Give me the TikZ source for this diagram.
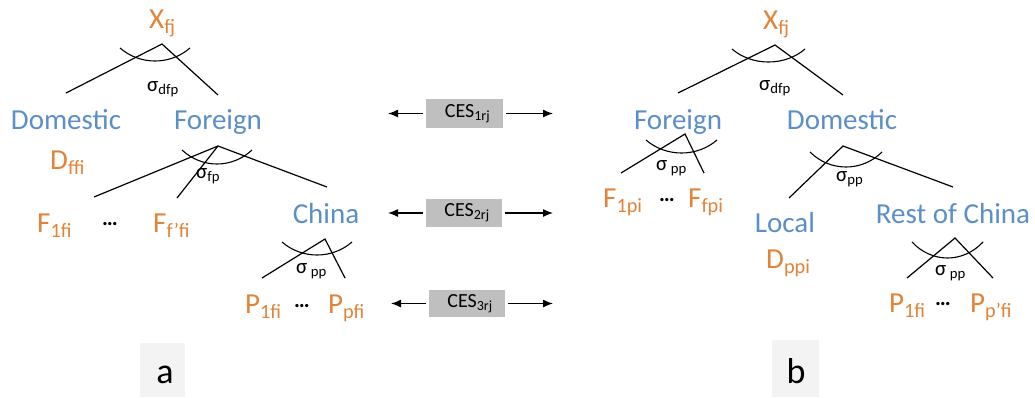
\documentclass[tikz,border=0pt]{standalone}
\usepackage{fontspec}
\setmainfont{Carlito}
\usetikzlibrary{arrows.meta}
\definecolor{torange}{RGB}{226,131,56}
\definecolor{tblue}{RGB}{91,143,199}
\definecolor{cesgray}{RGB}{191,191,191}
\definecolor{labgray}{RGB}{243,243,243}
\newcommand\sigarc[4]{\draw[arcline] (#1,#3) .. controls +(20,{4*#4/3}) and +(-20,{4*#4/3}) .. (#2,#3);}
\tikzset{
  olbl/.style={text=torange, inner sep=0pt, font=\fontsize{29}{33}\selectfont},
  blbl/.style={text=tblue, inner sep=0pt, font=\fontsize{29}{33}\selectfont},
  slbl/.style={text=black, inner sep=0pt, font=\fontsize{21}{24}\selectfont, anchor=base west},
  dotlbl/.style={text=black, inner sep=0pt, font=\bfseries\fontsize{22}{26}\selectfont},
  cesbox/.style={fill=cesgray, inner sep=0pt, font=\fontsize{20}{24}\selectfont},
  branch/.style={line width=1.2pt, black},
  arcline/.style={line width=1.1pt, black},
  cesarrow/.style={line width=1.3pt, -{Latex[length=10pt,width=8pt]}, shorten <=3pt},
  lettbox/.style={fill=labgray, inner sep=0pt},
  lettlbl/.style={inner sep=0pt, font=\fontsize{36}{40}\selectfont, anchor=base}
}
\begin{document}
\begin{tikzpicture}[x=1pt,y=-1pt]
\useasboundingbox (0,0) rectangle (1035,397);
% ---------------- left tree (a) ----------------
\node[olbl, anchor=base west] (xa) at (149,28) {X\textsubscript{fj}};
\coordinate (ta1) at (162,44);
\coordinate (ta1l) at (66,93);
\coordinate (ta1r) at (218,95);
\draw[branch] (ta1l) -- (ta1) -- (ta1r);
\sigarc{120}{190}{48}{13}
\node[slbl] (sa1) at (147,91) {σ\textsubscript{dfp}};
\node[blbl, anchor=base] (doma) at (66,129) {Domestic};
\node[blbl, anchor=base] (fora) at (218,129) {Foreign};
\node[olbl, anchor=base west] (dffi) at (50,169) {D\textsubscript{ffi}};
\coordinate (ta2) at (218,146);
\coordinate (ta2l) at (94,197);
\coordinate (ta2m) at (177,198);
\coordinate (ta2r) at (327,187);
\draw[branch] (ta2l) -- (ta2) -- (ta2r);
\draw[branch] (ta2) -- (ta2m);
\sigarc{182}{252}{150}{14}
\node[slbl] (sa2) at (196,178) {σ\textsubscript{fp}};
\node[olbl, anchor=base west] (f1fi) at (37,232) {F\textsubscript{1fi}};
\node[dotlbl] (da1) at (110,224) {…};
\node[olbl, anchor=base west] (fffi) at (153,232) {F\textsubscript{f’fi}};
\node[blbl, anchor=base] (china) at (326,223) {China};
\coordinate (ta3) at (325,239);
\coordinate (ta3l) at (262,278);
\coordinate (ta3r) at (345,278);
\draw[branch] (ta3l) -- (ta3) -- (ta3r);
\sigarc{282}{352}{242}{13}
\node[slbl] (sa3) at (296,273) {σ\,\textsubscript{pp}};
\node[olbl, anchor=base west] (p1fa) at (245,313) {P\textsubscript{1fi}};
\node[dotlbl] (da2) at (302,306) {…};
\node[olbl, anchor=base west] (ppfi) at (328,313) {P\textsubscript{pfi}};
% ---------------- middle CES boxes ----------------
\node[cesbox, minimum width=77pt, minimum height=29pt] (ces1) at (464.5,113.5) {\hspace*{6pt}CES\textsubscript{1rj}};
\node[cesbox, minimum width=76pt, minimum height=28pt] (ces2) at (464,213) {\hspace*{6pt}CES\textsubscript{2rj}};
\node[cesbox, minimum width=76pt, minimum height=27pt] (ces3) at (467,303.5) {\hspace*{6pt}CES\textsubscript{3rj}};
\coordinate (c1l) at (388,113.5);
\coordinate (c1r) at (553,113.5);
\coordinate (c2l) at (388,213);
\coordinate (c2r) at (553,213);
\coordinate (c3l) at (391,303.5);
\coordinate (c3r) at (553,303.5);
\draw[cesarrow] (ces1) -- (c1l);
\draw[cesarrow] (ces1) -- (c1r);
\draw[cesarrow] (ces2) -- (c2l);
\draw[cesarrow] (ces2) -- (c2r);
\draw[cesarrow] (ces3) -- (c3l);
\draw[cesarrow] (ces3) -- (c3r);
% ---------------- right tree (b) ----------------
\node[olbl, anchor=base west] (xb) at (763,29) {X\textsubscript{fj}};
\coordinate (tb1) at (775,45);
\coordinate (tb1l) at (678,93);
\coordinate (tb1r) at (843,95);
\draw[branch] (tb1l) -- (tb1) -- (tb1r);
\sigarc{732}{805}{49}{13}
\node[slbl] (sb1) at (759,90) {σ\textsubscript{dfp}};
\node[blbl, anchor=base] (forb) at (678,129) {Foreign};
\node[blbl, anchor=base] (domb) at (842,129) {Domestic};
\coordinate (tb2) at (685,134);
\coordinate (tb2l) at (621,173);
\coordinate (tb2r) at (704,173);
\draw[branch] (tb2l) -- (tb2) -- (tb2r);
\sigarc{646}{717}{140}{13}
\node[slbl] (sb2) at (656,170) {σ\,\textsubscript{pp}};
\node[olbl, anchor=base west] (f1pi) at (603,207) {F\textsubscript{1pi}};
\node[dotlbl] (db1) at (667,200) {…};
\node[olbl, anchor=base west] (ffpi) at (688,207) {F\textsubscript{fpi}};
\coordinate (tb3) at (843,146);
\coordinate (tb3l) at (789,198);
\coordinate (tb3r) at (953,187);
\draw[branch] (tb3l) -- (tb3) -- (tb3r);
\sigarc{810}{882}{152}{15}
\node[slbl] (sb3) at (836,181) {σ\textsubscript{pp}};
\node[blbl, anchor=base] (local) at (785,232) {Local};
\node[olbl, anchor=base west] (dppi) at (766,268) {D\textsubscript{ppi}};
\node[blbl, anchor=base] (rest) at (953,223) {Rest of China};
\coordinate (tb4) at (955,238);
\coordinate (tb4l) at (907,278);
\coordinate (tb4r) at (993,278);
\draw[branch] (tb4l) -- (tb4) -- (tb4r);
\sigarc{912}{983}{242}{16}
\node[slbl] (sb4) at (935,275) {σ\,\textsubscript{pp}};
\node[olbl, anchor=base west] (p1fb) at (889,312) {P\textsubscript{1fi}};
\node[dotlbl] (db2) at (943,304) {…};
\node[olbl, anchor=base west] (pppfi) at (970,312) {P\textsubscript{p’fi}};
% ---------------- panel letters ----------------
\node[lettbox, minimum width=45pt, minimum height=54pt] (boxa) at (162.5,370) {};
\node[lettbox, minimum width=47pt, minimum height=57pt] (boxb) at (795.5,368.5) {};
\node[lettlbl] (la) at (165,383) {a};
\node[lettlbl] (lb) at (796,383) {b};
\end{tikzpicture}
\end{document}
